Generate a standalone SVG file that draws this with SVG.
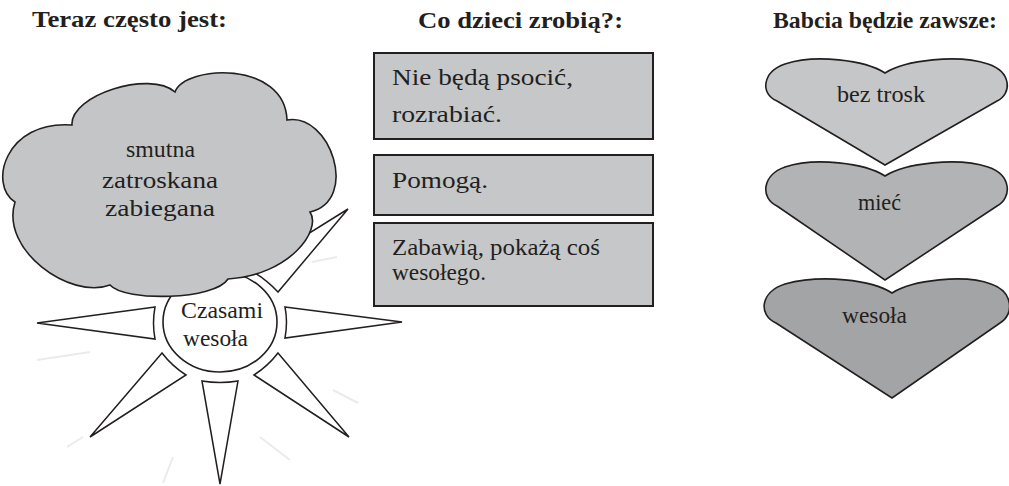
<svg xmlns="http://www.w3.org/2000/svg" width="1009" height="486" viewBox="0 0 1009 486">
<style>
text{font-family:"Liberation Serif","Times New Roman",serif;fill:#231f20;}
.hd{font-size:24px;font-weight:bold;}
.t{font-size:23px;}
.h{font-size:24px;}
.box{fill:#c6c7c9;stroke:#231f20;stroke-width:2;}
.ray{fill:#fff;stroke:#231f20;stroke-width:1.5;stroke-linejoin:miter;}
.glow{fill:none;stroke:#ebebeb;stroke-width:2;}
.heart{stroke:#231f20;stroke-width:1.6;stroke-linejoin:miter;}
</style>
<rect width="1009" height="486" fill="#fff"/>

<g id="headers">
<text class="hd" x="32" y="27" textLength="195" lengthAdjust="spacingAndGlyphs">Teraz  często jest:</text>
<text class="hd" x="418" y="28" textLength="205" lengthAdjust="spacingAndGlyphs">Co dzieci zrobią?:</text>
<text class="hd" x="773" y="28" textLength="224" lengthAdjust="spacingAndGlyphs">Babcia będzie zawsze:</text>
</g>

<g id="sun">
<g class="glow">
<line x1="37" y1="360" x2="90" y2="352"/>
<line x1="67" y1="447" x2="83" y2="437"/>
<line x1="173" y1="457" x2="163" y2="483"/>
<line x1="260" y1="437" x2="290" y2="460"/>
<line x1="333" y1="390" x2="358" y2="403"/>
<line x1="312" y1="262" x2="337" y2="257"/>
</g>
<path class="ray" d="M155,307 L37,323 L155,339 Q152,323 155,307 Z"/>
<path class="ray" d="M285,307 L402,322 L285,338 Q288,322 285,307 Z"/>
<path class="ray" d="M202,381 L220,484 L238,381 Q220,384 202,381 Z"/>
<path class="ray" d="M162,353 L90,437 L186,375 Q172,366 162,353 Z"/>
<path class="ray" d="M278,353 L349,437 L254,375 Q268,366 278,353 Z"/>
<path class="ray" d="M250,270 L348,209 L278,292 Q266,279 250,270 Z"/>
<ellipse cx="220" cy="322" rx="57" ry="50" fill="#fff" stroke="#231f20" stroke-width="1.6"/>
<text class="h" x="181" y="318" textLength="82" lengthAdjust="spacingAndGlyphs">Czasami</text>
<text class="h" x="183" y="346" textLength="65" lengthAdjust="spacingAndGlyphs">wesoła</text>
</g>

<g id="cloud">
<path fill="#c4c5c7" stroke="#231f20" stroke-width="1.6" d="M72,125 C70,95 150,70 175,92 C185,65 285,60 287,120 C330,112 360,200 310,212 C322,230 290,275 228,279 C215,300 125,302 110,285 C70,300 0,250 15,202 C-12,185 5,120 72,125 Z"/>
<text class="t" x="126" y="157" textLength="69" lengthAdjust="spacingAndGlyphs">smutna</text>
<text class="t" x="102" y="188" textLength="116" lengthAdjust="spacingAndGlyphs">zatroskana</text>
<text class="t" x="105" y="216" textLength="110" lengthAdjust="spacingAndGlyphs">zabiegana</text>
</g>

<g id="box-1">
<rect class="box" x="374" y="53" width="279" height="86"/>
<text class="t" x="392" y="85" textLength="181" lengthAdjust="spacingAndGlyphs">Nie będą psocić,</text>
<text class="t" x="392" y="122" textLength="110" lengthAdjust="spacingAndGlyphs">rozrabiać.</text>
</g>
<g id="box-2">
<rect class="box" x="374" y="155" width="279" height="60"/>
<text class="t" x="392" y="188" textLength="96" lengthAdjust="spacingAndGlyphs">Pomogą.</text>
</g>
<g id="box-3">
<rect class="box" x="374" y="223" width="279" height="83"/>
<text class="t" x="392" y="255" textLength="208" lengthAdjust="spacingAndGlyphs">Zabawią, pokażą coś</text>
<text class="t" x="392" y="280" textLength="94" lengthAdjust="spacingAndGlyphs">wesołego.</text>
</g>

<g id="heart-1">
<path class="heart" fill="#c5c6c8" d="M885,73 C865,60 815,54 785,64 C762,72 760,94 777,101 L885,165 L997,101 C1012,94 1012,72 988,64 C958,54 905,60 885,73 Z"/>
<text class="h" x="837" y="102" textLength="88" lengthAdjust="spacingAndGlyphs">bez trosk</text>
</g>
<g id="heart-2">
<path class="heart" fill="#b2b3b5" d="M885,176 C865,163 815,157 785,167 C762,175 760,198 777,206 L885,280 L997,206 C1012,198 1012,175 988,167 C958,157 905,163 885,176 Z"/>
<text class="h" x="858" y="210" textLength="43" lengthAdjust="spacingAndGlyphs">mieć</text>
</g>
<g id="heart-3">
<path class="heart" fill="#a3a4a6" d="M892,293 C872,280 822,274 785,284 C760,292 758,315 776,323 L892,398 L1000,323 C1014,315 1014,292 991,284 C965,274 912,280 892,293 Z"/>
<text class="h" x="842" y="323" textLength="65" lengthAdjust="spacingAndGlyphs">wesoła</text>
</g>

<g id="connectors"/>
</svg>
